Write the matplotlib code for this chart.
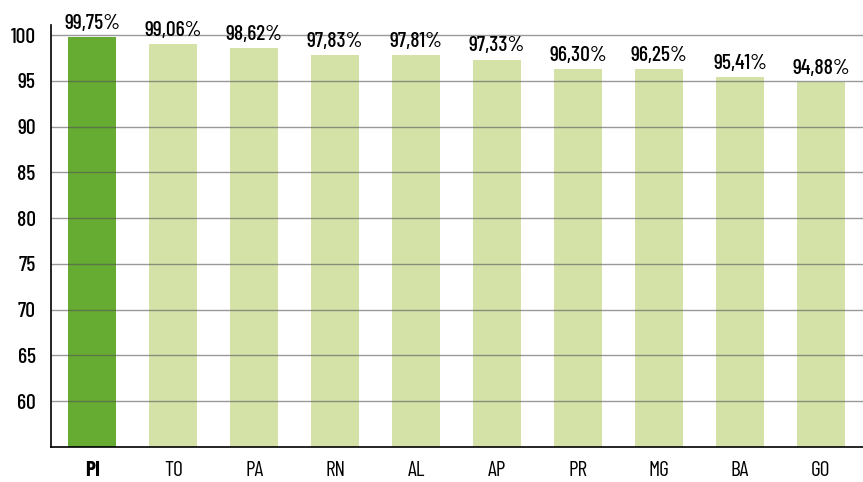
import matplotlib.pyplot as plt
from matplotlib import font_manager

states = ["PI", "TO", "PA", "RN", "AL", "AP", "PR", "MG", "BA", "GO"]
values = [99.75, 99.06, 98.62, 97.83, 97.81, 97.33, 96.30, 96.25, 95.41, 94.88]
labels = ["99,75%", "99,06%", "98,62%", "97,83%", "97,81%", "97,33%", "96,30%", "96,25%", "95,41%", "94,88%"]
yticks = [60, 65, 70, 75, 80, 85, 90, 95, 100]

names = {f.name for f in font_manager.fontManager.ttflist}
narrow = "Barlow Condensed" if "Barlow Condensed" in names else "DejaVu Sans"
plt.rcParams["font.family"] = [narrow, "DejaVu Sans"]

fig = plt.figure(figsize=(8.63, 4.82), dpi=100)
ax = fig.add_axes([51 / 863, 35 / 482, 812 / 863, 422 / 482])

colors = ["#66ab32"] + ["#d4e2a8"] * (len(states) - 1)
x = range(len(states))
ax.bar(x, values, width=0.59, color=colors, zorder=1)

for i, (v, lab) in enumerate(zip(values, labels)):
    ax.annotate(lab, (i, v), xytext=(0, 3), textcoords="offset points",
                ha="center", va="bottom", fontsize=15.5, fontweight=500,
                clip_on=False)

ax.set_ylim(55, 101.1)
ax.set_xlim(-0.51, 9.52)
ax.set_yticks(yticks)
ax.set_yticklabels([str(t) for t in yticks], fontsize=15.5, fontweight=500)
ax.set_xticks(list(x))
ax.set_xticklabels(states, fontsize=15.5)
ax.get_xticklabels()[0].set_fontweight("bold")
ax.tick_params(axis="y", length=0, pad=11)
ax.tick_params(axis="x", length=0, pad=10)

for t in yticks:
    ax.axhline(t, color="#555555", alpha=0.6, lw=1, zorder=2)

ax.spines["top"].set_visible(False)
ax.spines["right"].set_visible(False)
ax.spines["left"].set_linewidth(1.2)
ax.spines["bottom"].set_linewidth(1.2)

fig.savefig("out.png", dpi=100)
